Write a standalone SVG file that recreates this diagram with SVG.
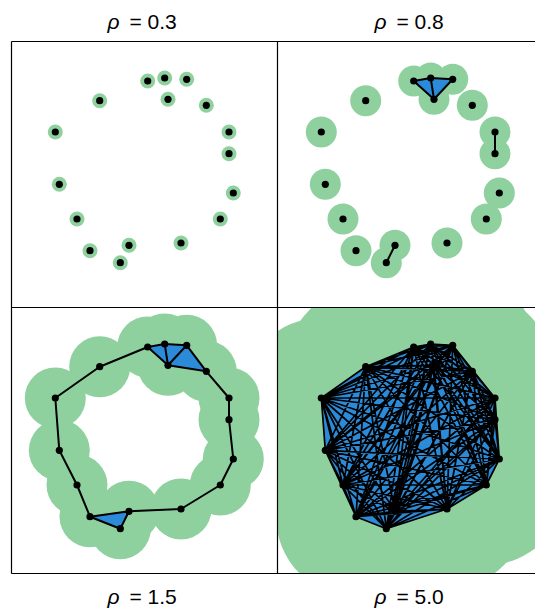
<svg xmlns="http://www.w3.org/2000/svg" xmlns:xlink="http://www.w3.org/1999/xlink" width="535" height="615" viewBox="0 0 535 615">
<style>
.ball{fill:#8fd19e;stroke:none}
.tri{fill:#2b8bd8;stroke:none}
.edge{fill:none;stroke:#000;stroke-width:2;stroke-linejoin:round;stroke-linecap:round}
.thin{stroke-width:1.7}
.dot{fill:#000}
.frame{fill:none;stroke:#000;stroke-width:1.2}
.title{font-family:"Liberation Sans",Arial,sans-serif;font-size:21px;fill:#000}
.rho{font-style:italic}
</style>
<defs>
<clipPath id="cell" clipPathUnits="userSpaceOnUse"><rect x="11.5" y="41.5" width="266" height="266"/></clipPath>
<g id="dots" class="dot">
<circle id="n1" cx="147.7" cy="81" r="3.6"/><circle id="n2" cx="164.7" cy="78" r="3.6"/><circle id="n3" cx="186.7" cy="79.3" r="3.6"/><circle id="n4" cx="168" cy="99.3" r="3.6"/><circle id="n5" cx="99.7" cy="100.7" r="3.6"/><circle id="n6" cx="206.3" cy="105.3" r="3.6"/><circle id="n7" cx="55.3" cy="132" r="3.6"/><circle id="n8" cx="229" cy="132" r="3.6"/><circle id="n9" cx="229" cy="153.7" r="3.6"/><circle id="n10" cx="59.3" cy="184.3" r="3.6"/><circle id="n11" cx="233.3" cy="193" r="3.6"/><circle id="n12" cx="77" cy="219" r="3.6"/><circle id="n13" cx="220.3" cy="219" r="3.6"/><circle id="n14" cx="181" cy="243" r="3.6"/><circle id="n15" cx="129" cy="245.3" r="3.6"/><circle id="n16" cx="90" cy="250.7" r="3.6"/><circle id="n17" cx="120.3" cy="262.7" r="3.6"/>
</g>
</defs>

<g id="panel-rho03">
<g class="ball" clip-path="url(#cell)">
<circle cx="147.7" cy="81" r="7.5"/><circle cx="164.7" cy="78" r="7.5"/><circle cx="186.7" cy="79.3" r="7.5"/><circle cx="168" cy="99.3" r="7.5"/><circle cx="99.7" cy="100.7" r="7.5"/><circle cx="206.3" cy="105.3" r="7.5"/><circle cx="55.3" cy="132" r="7.5"/><circle cx="229" cy="132" r="7.5"/><circle cx="229" cy="153.7" r="7.5"/><circle cx="59.3" cy="184.3" r="7.5"/><circle cx="233.3" cy="193" r="7.5"/><circle cx="77" cy="219" r="7.5"/><circle cx="220.3" cy="219" r="7.5"/><circle cx="181" cy="243" r="7.5"/><circle cx="129" cy="245.3" r="7.5"/><circle cx="90" cy="250.7" r="7.5"/><circle cx="120.3" cy="262.7" r="7.5"/>
</g>
<g id="nodes-rho03"><use xlink:href="#dots" href="#dots"/></g>
</g>

<g id="panel-rho08" transform="translate(266,0)">
<g class="ball" clip-path="url(#cell)">
<circle cx="147.7" cy="81" r="15.5"/><circle cx="164.7" cy="78" r="15.5"/><circle cx="186.7" cy="79.3" r="15.5"/><circle cx="168" cy="99.3" r="15.5"/><circle cx="99.7" cy="100.7" r="15.5"/><circle cx="206.3" cy="105.3" r="15.5"/><circle cx="55.3" cy="132" r="15.5"/><circle cx="229" cy="132" r="15.5"/><circle cx="229" cy="153.7" r="15.5"/><circle cx="59.3" cy="184.3" r="15.5"/><circle cx="233.3" cy="193" r="15.5"/><circle cx="77" cy="219" r="15.5"/><circle cx="220.3" cy="219" r="15.5"/><circle cx="181" cy="243" r="15.5"/><circle cx="129" cy="245.3" r="15.5"/><circle cx="90" cy="250.7" r="15.5"/><circle cx="120.3" cy="262.7" r="15.5"/>
</g>
<g id="tris-rho08" class="tri">
<polygon points="147.7,81 164.7,78 168,99.3"/>
<polygon points="164.7,78 186.7,79.3 168,99.3"/>
</g>
<g id="connectors-rho08" class="edge">
<path d="M147.7,81L164.7,78L186.7,79.3M147.7,81L168,99.3M164.7,78L168,99.3M186.7,79.3L168,99.3M229,132L229,153.7M129,245.3L120.3,262.7"/>
</g>
<g id="nodes-rho08"><use xlink:href="#dots" href="#dots"/></g>
</g>

<g id="panel-rho15" transform="translate(0,266)">
<g class="ball" clip-path="url(#cell)">
<circle cx="147.7" cy="81" r="30.5"/><circle cx="164.7" cy="78" r="30.5"/><circle cx="186.7" cy="79.3" r="30.5"/><circle cx="168" cy="99.3" r="30.5"/><circle cx="99.7" cy="100.7" r="30.5"/><circle cx="206.3" cy="105.3" r="30.5"/><circle cx="55.3" cy="132" r="30.5"/><circle cx="229" cy="132" r="30.5"/><circle cx="229" cy="153.7" r="30.5"/><circle cx="59.3" cy="184.3" r="30.5"/><circle cx="233.3" cy="193" r="30.5"/><circle cx="77" cy="219" r="30.5"/><circle cx="220.3" cy="219" r="30.5"/><circle cx="181" cy="243" r="30.5"/><circle cx="129" cy="245.3" r="30.5"/><circle cx="90" cy="250.7" r="30.5"/><circle cx="120.3" cy="262.7" r="30.5"/>
</g>
<g id="tris-rho15" class="tri">
<polygon points="147.7,81 164.7,78 168,99.3"/>
<polygon points="164.7,78 186.7,79.3 168,99.3"/>
<polygon points="186.7,79.3 168,99.3 206.3,105.3"/>
<polygon points="129,245.3 90,250.7 120.3,262.7"/>
</g>
<g id="connectors-rho15" class="edge">
<path d="M55.3,132L99.7,100.7L147.7,81L164.7,78L186.7,79.3L206.3,105.3L229,132L229,153.7L233.3,193L220.3,219L181,243L129,245.3L90,250.7L77,219L59.3,184.3L55.3,132M147.7,81L168,99.3L164.7,78M186.7,79.3L168,99.3L206.3,105.3M90,250.7L120.3,262.7L129,245.3"/>
</g>
<g id="nodes-rho15"><use xlink:href="#dots" href="#dots"/></g>
</g>

<g id="panel-rho50" transform="translate(266,266)">
<g class="ball" clip-path="url(#cell)">
<circle cx="147.7" cy="81" r="80"/><circle cx="164.7" cy="78" r="80"/><circle cx="186.7" cy="79.3" r="80"/><circle cx="168" cy="99.3" r="80"/><circle cx="99.7" cy="100.7" r="80"/><circle cx="206.3" cy="105.3" r="80"/><circle cx="55.3" cy="132" r="80"/><circle cx="229" cy="132" r="80"/><circle cx="229" cy="153.7" r="80"/><circle cx="59.3" cy="184.3" r="80"/><circle cx="233.3" cy="193" r="80"/><circle cx="77" cy="219" r="80"/><circle cx="220.3" cy="219" r="80"/><circle cx="181" cy="243" r="80"/><circle cx="129" cy="245.3" r="80"/><circle cx="90" cy="250.7" r="80"/><circle cx="120.3" cy="262.7" r="80"/>
</g>
<g id="tris-rho50" class="tri">
<polygon points="55.3,132 99.7,100.7 147.7,81 164.7,78 186.7,79.3 206.3,105.3 229,132 233.3,193 220.3,219 181,243 120.3,262.7 90,250.7 77,219 59.3,184.3"/>
</g>
<g id="connectors-rho50" class="edge thin">
<path d="M147.7,81L164.7,78L147.7,81L186.7,79.3L147.7,81L168,99.3L147.7,81L99.7,100.7L147.7,81L206.3,105.3L147.7,81L55.3,132L147.7,81L229,132L147.7,81L229,153.7L147.7,81L59.3,184.3L147.7,81L233.3,193L147.7,81L77,219L147.7,81L220.3,219L147.7,81L181,243L147.7,81L129,245.3L147.7,81L90,250.7L147.7,81L120.3,262.7
M164.7,78L186.7,79.3L164.7,78L168,99.3L164.7,78L99.7,100.7L164.7,78L206.3,105.3L164.7,78L55.3,132L164.7,78L229,132L164.7,78L229,153.7L164.7,78L59.3,184.3L164.7,78L233.3,193L164.7,78L77,219L164.7,78L220.3,219L164.7,78L181,243L164.7,78L129,245.3L164.7,78L90,250.7L164.7,78L120.3,262.7
M186.7,79.3L168,99.3L186.7,79.3L99.7,100.7L186.7,79.3L206.3,105.3L186.7,79.3L55.3,132L186.7,79.3L229,132L186.7,79.3L229,153.7L186.7,79.3L59.3,184.3L186.7,79.3L233.3,193L186.7,79.3L77,219L186.7,79.3L220.3,219L186.7,79.3L181,243L186.7,79.3L129,245.3L186.7,79.3L90,250.7L186.7,79.3L120.3,262.7
M168,99.3L99.7,100.7L168,99.3L206.3,105.3L168,99.3L55.3,132L168,99.3L229,132L168,99.3L229,153.7L168,99.3L59.3,184.3L168,99.3L233.3,193L168,99.3L77,219L168,99.3L220.3,219L168,99.3L181,243L168,99.3L129,245.3L168,99.3L90,250.7L168,99.3L120.3,262.7
M99.7,100.7L206.3,105.3L99.7,100.7L55.3,132L99.7,100.7L229,132L99.7,100.7L229,153.7L99.7,100.7L59.3,184.3L99.7,100.7L233.3,193L99.7,100.7L77,219L99.7,100.7L220.3,219L99.7,100.7L181,243L99.7,100.7L129,245.3L99.7,100.7L90,250.7L99.7,100.7L120.3,262.7
M206.3,105.3L55.3,132L206.3,105.3L229,132L206.3,105.3L229,153.7L206.3,105.3L59.3,184.3L206.3,105.3L233.3,193L206.3,105.3L77,219L206.3,105.3L220.3,219L206.3,105.3L181,243L206.3,105.3L129,245.3L206.3,105.3L90,250.7L206.3,105.3L120.3,262.7
M55.3,132L229,132L55.3,132L229,153.7L55.3,132L59.3,184.3L55.3,132L233.3,193L55.3,132L77,219L55.3,132L220.3,219L55.3,132L181,243L55.3,132L129,245.3L55.3,132L90,250.7L55.3,132L120.3,262.7
M229,132L229,153.7L229,132L59.3,184.3L229,132L233.3,193L229,132L77,219L229,132L220.3,219L229,132L181,243L229,132L129,245.3L229,132L90,250.7L229,132L120.3,262.7
M229,153.7L59.3,184.3L229,153.7L233.3,193L229,153.7L77,219L229,153.7L220.3,219L229,153.7L181,243L229,153.7L129,245.3L229,153.7L90,250.7L229,153.7L120.3,262.7
M59.3,184.3L233.3,193L59.3,184.3L77,219L59.3,184.3L220.3,219L59.3,184.3L181,243L59.3,184.3L129,245.3L59.3,184.3L90,250.7L59.3,184.3L120.3,262.7
M233.3,193L77,219L233.3,193L220.3,219L233.3,193L181,243L233.3,193L129,245.3L233.3,193L90,250.7L233.3,193L120.3,262.7
M77,219L220.3,219L77,219L181,243L77,219L129,245.3L77,219L90,250.7L77,219L120.3,262.7
M220.3,219L181,243L220.3,219L129,245.3L220.3,219L90,250.7L220.3,219L120.3,262.7
M181,243L129,245.3L181,243L90,250.7L181,243L120.3,262.7
M129,245.3L90,250.7L129,245.3L120.3,262.7
M90,250.7L120.3,262.7"/>
</g>
<g id="nodes-rho50"><use xlink:href="#dots" href="#dots"/></g>
</g>

<g id="frames" class="frame">
<path d="M11.5,41.5H535M11.5,307.5H535M11.5,573.5H535M11.5,41.5V573.5M277.5,41.5V573.5"/>
</g>

<g id="titles" class="title">
<text y="29"><tspan x="107.5" class="rho">ρ</tspan><tspan x="129.5">=</tspan><tspan x="147.5">0.3</tspan></text>
<text y="29"><tspan x="374.5" class="rho">ρ</tspan><tspan x="396.5">=</tspan><tspan x="414.5">0.8</tspan></text>
<text y="604"><tspan x="107.5" class="rho">ρ</tspan><tspan x="129.5">=</tspan><tspan x="147.5">1.5</tspan></text>
<text y="604"><tspan x="374.5" class="rho">ρ</tspan><tspan x="396.5">=</tspan><tspan x="414.5">5.0</tspan></text>
</g>
</svg>
